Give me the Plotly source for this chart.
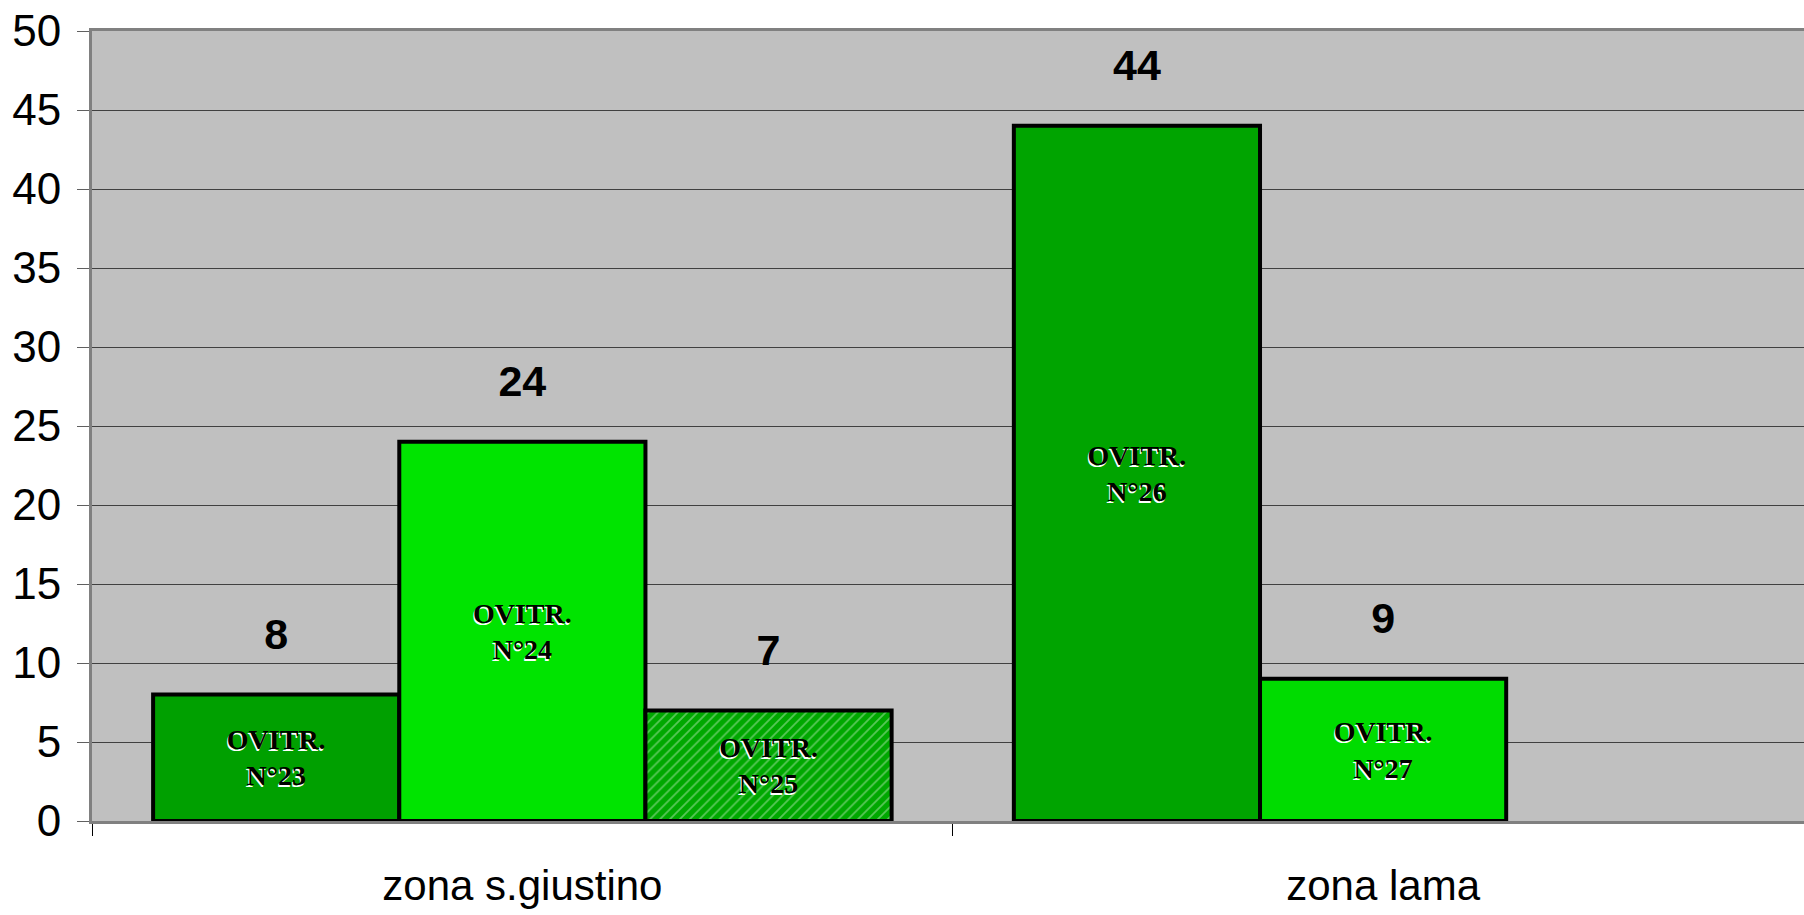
import plotly.graph_objects as go

# ---- data ----
categories = ["zona s.giustino", "zona lama"]
values_first = [8, 44]      # OVITR. N°23, N°26
values_second = [24, 9]     # OVITR. N°24, N°27
values_third = [7, None]    # OVITR. N°25
labels_first = ["OVITR.<br>N°23", "OVITR.<br>N°26"]
labels_second = ["OVITR.<br>N°24", "OVITR.<br>N°27"]
labels_third = ["OVITR.<br>N°25", ""]
y_ticks = [0, 5, 10, 15, 20, 25, 30, 35, 40, 45, 50]

# ---- styles ----
colors_first = ["#00a000", "#00a400"]
colors_second = ["#00e400", "#00dc00"]
colors_third = ["#00a800", "#00a800"]
SANS = "Liberation Sans, Arial, sans-serif"
SERIF = "Liberation Serif, Times New Roman, serif"
BARGAP = 0.142

inner_font = dict(family=SERIF, size=28, color="black", weight="bold",
                  shadow="-1px 2px 0px white")

fig = go.Figure()

series = [
    (values_first, labels_first, colors_first, None),
    (values_second, labels_second, colors_second, None),
    (values_third, labels_third, colors_third,
     dict(shape="/", fgcolor="#3cff3c", fgopacity=0.35, size=7, solidity=0.25)),
]

for vals, labs, cols, patt in series:
    marker = dict(color=cols, line=dict(color="black", width=4))
    if patt:
        marker["pattern"] = patt
    fig.add_trace(go.Bar(
        x=categories, y=vals, text=labs,
        textposition="inside", insidetextanchor="middle",
        textfont=inner_font, marker=marker,
        hoverinfo="skip", showlegend=False,
    ))

# value labels above bars (grouped scatter aligned with the bars)
for vals in (values_first, values_second, values_third):
    fig.add_trace(go.Scatter(
        x=categories, y=vals,
        text=["" if v is None else str(v) for v in vals],
        mode="markers+text", textposition="top center",
        marker=dict(size=54, color="rgba(0,0,0,0)"),
        textfont=dict(family=SANS, size=43, color="black", weight="bold"),
        cliponaxis=False, hoverinfo="skip", showlegend=False,
    ))

fig.update_layout(
    width=1804, height=915,
    margin=dict(l=92, r=0, t=31, b=94),
    paper_bgcolor="white", plot_bgcolor="#c0c0c0",
    barmode="group", bargap=BARGAP, bargroupgap=0,
    scattermode="group", scattergap=BARGAP,
    showlegend=False,
)

fig.update_xaxes(
    type="category", range=[-0.5, 1.489],
    showline=True, linecolor="#808080", linewidth=3, mirror=True,
    ticks="outside", tickson="boundaries", ticklen=12, tickwidth=1, tickcolor="black",
    showgrid=False, ticklabelstandoff=26,
    tickfont=dict(family=SANS, size=42, color="black"),
)

fig.update_yaxes(
    range=[0, 50], tickvals=y_ticks,
    showgrid=True, gridcolor="#404040", gridwidth=1, zeroline=False,
    showline=True, linecolor="#808080", linewidth=3,
    ticks="outside", ticklen=12, tickwidth=1, tickcolor="#606060",
    ticklabelstandoff=7,
    tickfont=dict(family=SANS, size=44, color="black"),
)

fig.write_html("out.html", config={"displayModeBar": False},
               post_script="document.body.style.margin='0';document.body.style.overflow='hidden';")
